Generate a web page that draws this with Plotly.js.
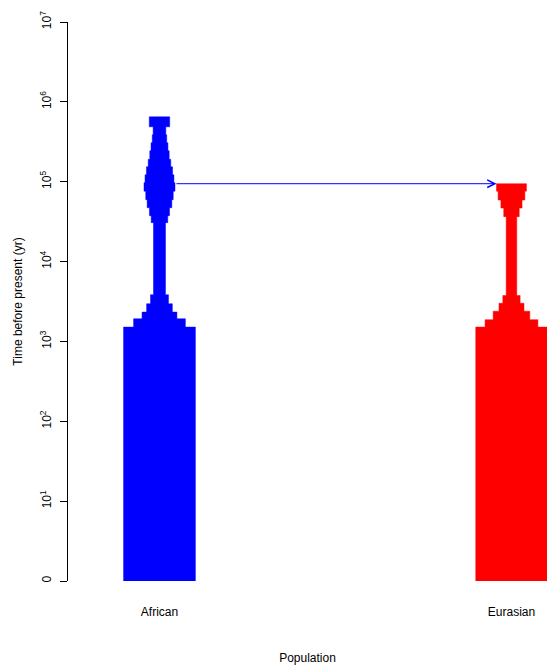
<!DOCTYPE html>
<html><head><meta charset="utf-8">
<script src="https://cdn.plot.ly/plotly-3.0.1.min.js"></script>
<style>html,body{margin:0;padding:0;background:#fff}</style>
</head><body><div id="chart" style="width:547px;height:668px"></div>
<script>
// ---- data ----
const populations = ['African', 'Eurasian'];
const popPositions = [1, 2];
const popColors = ['#0000FF', '#FF0000'];
// end time (years before present) of each successive epoch, starting at present (0)
const africanEpochEnds = [1510, 1920, 2330, 2960, 3840, 30700, 37600, 47300, 59600, 76100, 97200, 122300, 154000, 191000, 244000, 307000, 387000, 487000, 649000];
// relative population size (drawn as width) in each epoch
const africanSizes = [0.204, 0.147, 0.099, 0.073, 0.051, 0.034, 0.047, 0.057, 0.070, 0.078, 0.088, 0.082, 0.074, 0.064, 0.055, 0.048, 0.041, 0.036, 0.058];
const eurasianEpochEnds = [1510, 1870, 2390, 3010, 3760, 36500, 46700, 59000, 76100, 94400];
const eurasianSizes = [0.203, 0.150, 0.104, 0.071, 0.049, 0.030, 0.044, 0.060, 0.076, 0.085];
const splitTime = 94400; // Eurasian split from African
const yTickVals = [0, 1, 2, 3, 4, 5, 6, 7];
const yTickText = ['0', '10<sup>1</sup>', '10<sup>2</sup>', '10<sup>3</sup>', '10<sup>4</sup>', '10<sup>5</sup>', '10<sup>6</sup>', '10<sup>7</sup>'];

// ---- helpers ----
const ly = t => Math.log10(1 + t);
function outline(center, ends, sizes) {
  const segs = [];
  let start = 0;
  for (let i = 0; i < ends.length; i++) { segs.push([start, ends[i], sizes[i] / 2]); start = ends[i]; }
  const x = [], y = [];
  segs.forEach(s => { x.push(center + s[2], center + s[2]); y.push(ly(s[0]), ly(s[1])); });
  for (let i = segs.length - 1; i >= 0; i--) {
    x.push(center - segs[i][2], center - segs[i][2]);
    y.push(ly(segs[i][1]), ly(segs[i][0]));
  }
  return { x: x, y: y };
}
function sizeAt(ends, sizes, t) {
  for (let i = 0; i < ends.length; i++) if (t <= ends[i]) return sizes[i];
  return sizes[sizes.length - 1];
}

const allEnds = [africanEpochEnds, eurasianEpochEnds];
const allSizes = [africanSizes, eurasianSizes];
const traces = populations.map((p, k) => {
  const o = outline(popPositions[k], allEnds[k], allSizes[k]);
  return { x: o.x, y: o.y, type: 'scatter', mode: 'lines', fill: 'toself',
    fillcolor: popColors[k], line: { width: 0.5, color: popColors[k] }, hoverinfo: 'skip', name: p, showlegend: false };
});

const arrowStart = popPositions[0] + sizeAt(africanEpochEnds, africanSizes, splitTime) / 2;
const arrowEnd = popPositions[1] - sizeAt(eurasianEpochEnds, eurasianSizes, splitTime) / 2;

const font = { family: 'Liberation Sans, Arial, sans-serif', size: 12, color: '#000' };
const layout = {
  width: 547, height: 668,
  margin: { l: 68, r: 0, t: 22, b: 87 },
  paper_bgcolor: '#fff', plot_bgcolor: '#fff',
  font: font,
  showlegend: false,
  xaxis: {
    range: [0.7401, 2.1009], tickvals: popPositions, ticktext: populations,
    showline: false, showgrid: false, zeroline: false,
    ticks: 'outside', ticklen: 20, tickcolor: 'rgba(0,0,0,0)', tickfont: font,
    title: { text: 'Population', font: font, standoff: 35 }, fixedrange: true
  },
  yaxis: {
    range: [0, 7], tickvals: yTickVals, ticktext: yTickText, tickangle: -90,
    showline: true, linecolor: '#000', linewidth: 1, mirror: false,
    showgrid: false, zeroline: false,
    ticks: 'outside', ticklen: 7, tickcolor: '#000', tickwidth: 1, tickfont: font,
    ticklabelstandoff: 4,
    title: { text: 'Time before present (yr)', font: font, standoff: 12 }, fixedrange: true
  },
  annotations: [{
    x: arrowEnd, y: ly(splitTime), ax: arrowStart, ay: ly(splitTime),
    xref: 'x', yref: 'y', axref: 'x', ayref: 'y', text: '', showarrow: true,
    arrowhead: 5, arrowsize: 1.5, arrowwidth: 1, arrowcolor: '#0000FF', standoff: 0, startstandoff: 0
  }]
};
Plotly.newPlot('chart', traces, layout, { staticPlot: true, displayModeBar: false });
</script></body></html>
